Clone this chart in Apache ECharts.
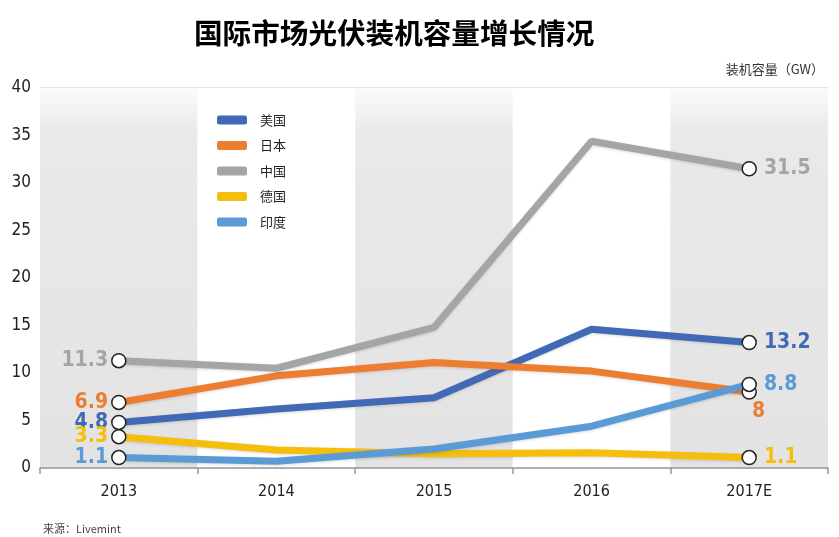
<!DOCTYPE html>
<html>
<head>
<meta charset="utf-8">
<script src="https://cdn.jsdelivr.net/npm/echarts@6/dist/echarts.min.js"></script>
<style>html,body{margin:0;padding:0;background:#fff;}#c{width:839px;height:537px;}</style>
</head>
<body>
<div id="c"></div>
<script>
var categories = ['2013', '2014', '2015', '2016', '2017E'];
var usa = [4.8, 6.2, 7.4, 14.6, 13.2];
var japan = [6.9, 9.7, 11.1, 10.2, 8];
var china = [11.3, 10.5, 14.8, 34.4, 31.5];
var germany = [3.3, 1.9, 1.5, 1.6, 1.1];
var india = [1.1, 0.7, 2.0, 4.4, 8.8];
var yTicks = [0, 5, 10, 15, 20, 25, 30, 35, 40];

var labelFont = '"DejaVu Sans Condensed","Liberation Sans Narrow",sans-serif';
var cjk = '"Noto Sans CJK SC",sans-serif';

function mk(name, vals, color, lastOffset) {
  var data = vals.map(function (v, i) {
    if (i === 0 || i === vals.length - 1) {
      return {
        value: v,
        symbol: 'circle',
        symbolSize: 14,
        itemStyle: { color: '#fff', borderColor: '#222', borderWidth: 1.5 },
        label: {
          show: true,
          position: i === 0 ? 'left' : 'right',
          distance: i === 0 ? 3 : 7,
          offset: i === 0 ? [0, 0] : (lastOffset || [0, 0]),
          formatter: String(v),
          color: color,
          fontFamily: labelFont,
          fontWeight: 'bold',
          fontSize: 21
        }
      };
    }
    return { value: v, symbol: 'none' };
  });
  return {
    name: name,
    type: 'line',
    data: data,
    showSymbol: true,
    lineStyle: { width: 7, color: color, shadowColor: 'rgba(0,0,0,0.15)', shadowBlur: 3, shadowOffsetY: 1 },
    itemStyle: { color: color },
    emphasis: { disabled: true },
    z: 3
  };
}

var chart = echarts.init(document.getElementById('c'));
var grayBand = {
  type: 'linear', x: 0, y: 0, x2: 0, y2: 1,
  colorStops: [
    { offset: 0, color: '#fbfbfb' },
    { offset: 0.12, color: '#e9e9e9' },
    { offset: 1, color: '#e3e3e3' }
  ]
};
chart.setOption({
  animation: false,
  backgroundColor: '#fff',
  title: [{
    text: '国际市场光伏装机容量增长情况',
    left: 189, top: 14,
    textStyle: { fontFamily: cjk, fontWeight: 'bold', fontSize: 28.6, color: '#000' }
  }, {
    text: '装机容量（GW）',
    right: 10, top: 58,
    textStyle: { fontFamily: cjk, fontWeight: 'normal', fontSize: 13, color: '#333' }
  }, {
    text: '来源：Livemint',
    left: 38, top: 518,
    textStyle: { fontFamily: cjk, fontWeight: 'normal', fontSize: 11, color: '#444' }
  }],
  legend: {
    orient: 'vertical',
    left: 200, top: 100,
    backgroundColor: '#fff',
    padding: [12, 24, 12, 17],
    itemWidth: 30, itemHeight: 9, itemGap: 9.5,
    icon: 'roundRect',
    textStyle: { fontFamily: cjk, fontSize: 13, lineHeight: 16, color: '#222', padding: [0, 0, 0, 8] },
    data: ['美国', '日本', '中国', '德国', '印度'],
    z: 2
  },
  grid: { left: 40, right: 11, top: 88, bottom: 69 },
  xAxis: {
    type: 'category',
    data: categories,
    boundaryGap: true,
    axisLine: { lineStyle: { color: '#999', width: 1.5 } },
    axisTick: { show: true, length: 6, lineStyle: { color: '#999', width: 1.5 } },
    axisLabel: { fontFamily: labelFont, fontSize: 16, color: '#222', margin: 16 },
    splitArea: { show: true, areaStyle: { color: [grayBand, '#ffffff'] } },
    z: 1
  },
  yAxis: {
    type: 'value',
    min: yTicks[0], max: yTicks[yTicks.length - 1], interval: 5,
    axisLine: { show: false },
    axisTick: { show: false },
    axisLabel: { fontFamily: labelFont, fontSize: 17, color: '#222', margin: 9 },
    splitLine: { lineStyle: { color: '#d8d8d8', width: 1.5 } }
  },
  series: [
    mk('美国', usa, '#4169b5'),
    mk('日本', japan, '#ed7d31', [-12, 20]),
    mk('中国', china, '#a5a5a5'),
    mk('德国', germany, '#f5be0b'),
    mk('印度', india, '#5b9bd5')
  ]
});
</script>
</body>
</html>
